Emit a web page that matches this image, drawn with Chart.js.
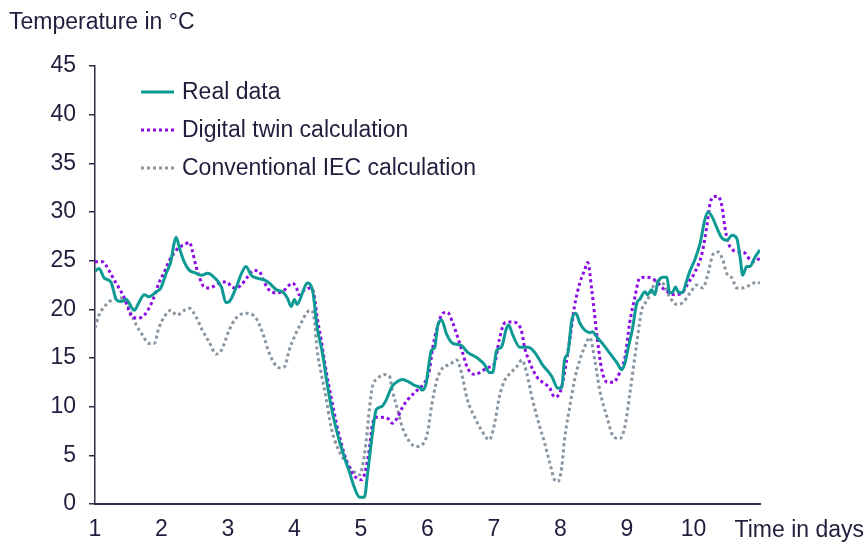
<!DOCTYPE html>
<html>
<head>
<meta charset="utf-8">
<script src="https://cdn.jsdelivr.net/npm/chart.js@4.4.1/dist/chart.umd.min.js"></script>
<style>
  html, body { margin: 0; padding: 0; background: #fff; }
</style>
</head>
<body>
<canvas id="tempChart" width="866" height="548"></canvas>
<script>
// Values (time in days, temperature in °C)
const realDays = [1.00,1.06,1.14,1.24,1.32,1.39,1.47,1.56,1.59,1.66,
  1.74,1.81,1.92,1.99,2.07,2.14,2.19,2.22,2.27,2.34,
  2.42,2.49,2.60,2.69,2.79,2.90,2.97,3.02,3.12,3.21,
  3.27,3.35,3.44,3.55,3.62,3.73,3.82,3.89,3.95,4.00,
  4.04,4.12,4.19,4.27,4.34,4.42,4.49,4.57,4.67,4.75,
  4.83,4.90,4.98,5.05,5.10,5.16,5.23,5.31,5.38,5.46,
  5.53,5.62,5.73,5.80,5.88,5.92,5.98,6.03,6.06,6.11,
  6.15,6.21,6.29,6.38,6.51,6.60,6.75,6.86,6.93,6.98,
  7.04,7.11,7.19,7.22,7.28,7.39,7.51,7.61,7.73,7.87,
  7.96,8.02,8.06,8.11,8.17,8.23,8.29,8.36,8.44,8.48,
  8.54,8.63,8.74,8.85,8.92,8.97,9.02,9.08,9.15,9.19,
  9.27,9.31,9.37,9.42,9.46,9.54,9.60,9.64,9.69,9.73,
  9.77,9.83,9.90,9.95,10.02,10.10,10.17,10.22,10.28,10.35,
  10.42,10.50,10.58,10.65,10.70,10.74,10.80,10.85,10.92,11.00];
const realTemps = [23.9,24.2,23.2,22.8,21.0,20.8,21.0,20.1,19.9,20.7,
  21.5,21.3,21.8,22.2,23.7,24.9,26.8,27.4,26.3,24.9,
  24.0,23.8,23.5,23.7,23.3,22.3,20.7,20.8,22.2,23.8,
  24.4,23.5,23.2,23.0,22.7,22.0,21.8,21.2,20.3,21.0,
  20.5,21.7,22.7,22.0,18.2,15.5,12.4,9.4,6.6,4.8,
  3.2,1.7,0.7,0.7,3.2,6.6,9.7,10.0,10.7,12.0,
  12.5,12.8,12.5,12.2,12.0,11.7,12.4,14.8,15.8,16.1,
  18.2,18.9,17.4,16.5,16.3,15.6,15.0,14.3,13.5,13.5,
  15.8,16.1,18.1,18.4,17.4,16.1,16.1,15.6,14.3,13.1,
  11.9,12.0,14.8,15.5,18.9,19.6,18.6,17.9,17.6,17.7,
  17.2,16.5,15.5,14.5,13.8,14.5,16.1,17.9,20.7,21.0,
  21.8,21.5,22.0,21.5,22.7,23.3,23.3,21.7,21.8,22.3,
  21.8,21.7,23.0,24.0,25.1,26.8,29.2,30.0,29.5,28.4,
  27.4,27.1,27.6,27.3,25.4,23.5,24.4,24.4,25.3,26.1];

const twinDays = [1.00,1.11,1.21,1.29,1.36,1.44,1.51,1.56,1.66,1.74,
  1.81,1.89,1.96,2.04,2.11,2.19,2.27,2.34,2.42,2.46,
  2.52,2.57,2.64,2.72,2.82,2.91,2.99,3.05,3.12,3.20,
  3.29,3.39,3.47,3.55,3.65,3.74,3.85,3.97,4.03,4.07,
  4.15,4.25,4.30,4.34,4.40,4.48,4.55,4.63,4.70,4.78,
  4.86,4.93,5.01,5.08,5.13,5.17,5.23,5.31,5.40,5.47,
  5.55,5.62,5.70,5.80,5.88,5.95,6.03,6.08,6.15,6.23,
  6.30,6.38,6.45,6.53,6.60,6.71,6.81,6.90,7.01,7.08,
  7.16,7.23,7.34,7.42,7.46,7.54,7.64,7.73,7.84,7.91,
  7.99,8.06,8.14,8.21,8.29,8.36,8.41,8.47,8.55,8.62,
  8.71,8.79,8.89,8.97,9.04,9.12,9.19,9.27,9.37,9.45,
  9.52,9.61,9.72,9.83,9.92,10.02,10.13,10.20,10.25,10.32,
  10.37,10.43,10.47,10.52,10.59,10.70,10.77,10.85,10.92,11.00];
const twinTemps = [24.9,24.9,24.0,23.0,22.2,21.2,19.9,19.2,19.1,19.4,
  20.1,21.3,22.7,23.8,24.9,25.8,26.4,26.6,26.9,26.1,
  24.4,23.3,22.3,22.2,22.5,22.8,22.8,22.3,22.2,22.5,
  23.3,24.0,23.9,22.7,21.8,21.7,22.0,22.7,22.2,21.5,
  22.0,22.2,21.3,19.2,16.9,13.5,11.0,8.3,6.3,4.5,
  3.3,2.7,2.5,3.8,5.9,8.1,8.9,8.9,8.8,8.3,
  8.9,9.9,10.7,11.4,11.9,12.4,13.8,16.1,18.2,19.6,
  19.7,18.6,17.2,15.5,14.0,13.3,13.6,14.0,14.5,16.9,
  18.6,18.7,18.6,17.6,16.1,14.5,13.1,12.5,11.9,11.0,
  11.4,13.5,16.9,20.3,22.7,24.0,24.8,22.0,17.2,13.8,
  12.5,12.5,13.5,15.1,18.6,21.3,23.2,23.3,23.2,22.8,
  22.3,21.8,21.5,21.7,22.7,23.8,25.8,28.5,30.9,31.6,
  31.6,30.5,28.5,26.9,26.1,25.9,25.8,25.1,24.9,25.3];

const iecDays = [1.00,1.06,1.17,1.26,1.36,1.47,1.54,1.62,1.71,1.81,
  1.89,1.96,2.04,2.14,2.23,2.34,2.42,2.52,2.61,2.72,
  2.82,2.90,3.02,3.12,3.27,3.42,3.52,3.62,3.77,3.85,
  3.92,4.00,4.10,4.19,4.25,4.30,4.34,4.40,4.48,4.55,
  4.64,4.75,4.83,4.90,4.98,5.02,5.08,5.13,5.17,5.25,
  5.35,5.43,5.47,5.55,5.62,5.73,5.83,5.92,6.00,6.06,
  6.14,6.23,6.33,6.44,6.51,6.60,6.71,6.81,6.93,7.01,
  7.08,7.16,7.27,7.34,7.42,7.49,7.58,7.69,7.76,7.84,
  7.91,7.96,8.02,8.06,8.14,8.21,8.29,8.36,8.44,8.52,
  8.59,8.70,8.79,8.89,8.97,9.04,9.15,9.22,9.31,9.39,
  9.46,9.54,9.64,9.75,9.84,9.95,10.05,10.14,10.22,10.29,
  10.37,10.44,10.50,10.58,10.65,10.74,10.85,10.95,11.00];
const iecTemps = [18.1,19.4,20.5,21.0,21.2,20.7,19.6,18.4,17.4,16.5,
  16.5,18.1,19.2,19.9,19.4,19.9,20.1,19.2,17.9,16.6,
  15.4,15.8,17.9,19.1,19.6,19.1,17.6,15.5,14.0,14.1,
  15.8,17.2,18.6,19.7,19.9,18.9,15.8,13.5,10.7,7.9,
  5.9,4.5,3.8,3.3,3.0,3.8,6.6,10.0,12.0,12.9,
  13.3,13.1,11.7,9.7,7.9,6.4,5.9,6.1,7.3,10.0,
  12.7,14.0,14.3,14.8,13.5,10.7,8.9,7.6,6.6,8.3,
  11.0,12.7,13.6,14.1,14.8,13.5,10.7,7.9,6.3,4.2,
  2.5,2.3,3.8,6.6,10.0,12.7,14.8,16.1,17.1,14.6,
  11.7,8.9,7.0,6.7,8.0,11.2,16.7,19.9,21.0,22.3,
  23.2,22.7,21.3,20.5,20.7,21.7,22.5,22.2,23.7,25.6,
  25.9,25.1,23.7,23.2,22.2,22.2,22.5,22.8,22.7];

const seriesLabels = ['Real data', 'Digital twin calculation', 'Conventional IEC calculation'];
const yTitle = 'Temperature in °C';
const xTitle = 'Time in days';

const FONT = '"Liberation Sans", Arial, sans-serif';
const FONT_SIZE = 23;
const TEXT_COLOR = '#1f1f3d';
const AXIS_COLOR = '#2d2d45';

function toPoints(xs, ys) {
    return xs.map((x, i) => ({ x: x, y: ys[i] }));
}

// Legend and axis titles drawn onto the canvas
const annotations = {
    id: 'annotations',
    afterDraw(chart) {
        const ctx = chart.ctx;
        ctx.save();
        ctx.font = FONT_SIZE + 'px ' + FONT;
        ctx.fillStyle = TEXT_COLOR;
        ctx.textBaseline = 'middle';
        ctx.textAlign = 'left';
        ctx.fillText(yTitle, 9, 23);
        ctx.textAlign = 'right';
        ctx.fillText(xTitle, 864, 531);

        const top = chart.chartArea.top;
        chart.data.datasets.forEach((ds, i) => {
            const y = top + 26 + i * 38;
            ctx.beginPath();
            ctx.strokeStyle = ds.borderColor;
            ctx.lineWidth = ds.borderWidth;
            ctx.setLineDash(ds.borderDash || []);
            ctx.moveTo(141, y);
            ctx.lineTo(174, y);
            ctx.stroke();
            ctx.setLineDash([]);
            ctx.textAlign = 'left';
            ctx.fillText(ds.label, 182, y + 1);
        });
        ctx.restore();
    }
};

new Chart(document.getElementById('tempChart'), {
    type: 'line',
    data: {
        datasets: [{
            label: seriesLabels[0],
            data: toPoints(realDays, realTemps),
            borderColor: '#0e9a94',
            borderWidth: 3,
            pointRadius: 0,
            cubicInterpolationMode: 'monotone'
        },
        {
            label: seriesLabels[1],
            data: toPoints(twinDays, twinTemps),
            borderColor: '#8c0ae6',
            borderWidth: 3,
            borderDash: [3, 3],
            pointRadius: 0,
            cubicInterpolationMode: 'monotone'
        },
        {
            label: seriesLabels[2],
            data: toPoints(iecDays, iecTemps),
            borderColor: '#8796a2',
            borderWidth: 3,
            borderDash: [3, 3],
            pointRadius: 0,
            cubicInterpolationMode: 'monotone'
        }]
    },
    options: {
        responsive: false,
        animation: false,
        devicePixelRatio: 1,
        layout: { padding: { top: 66, right: 106, left: 0, bottom: 0 } },
        plugins: {
            legend: { display: false },
            tooltip: { enabled: false }
        },
        scales: {
            x: {
                type: 'linear',
                min: 1,
                max: 11,
                grid: { display: false },
                border: { display: true, color: AXIS_COLOR, width: 2 },
                ticks: {
                    stepSize: 1,
                    autoSkip: false,
                    maxRotation: 0,
                    padding: 4,
                    color: TEXT_COLOR,
                    font: { family: FONT, size: FONT_SIZE },
                    callback: (v) => (v <= 10 ? v : '')
                },
                afterFit: (scale) => { scale.height = 44; }
            },
            y: {
                min: 0,
                max: 45,
                grid: {
                    display: true,
                    drawOnChartArea: false,
                    drawTicks: true,
                    tickLength: 6,
                    color: AXIS_COLOR,
                    lineWidth: 1.5
                },
                border: { display: true, color: AXIS_COLOR, width: 1.5 },
                ticks: {
                    stepSize: 5,
                    padding: 13,
                    color: TEXT_COLOR,
                    font: { family: FONT, size: FONT_SIZE }
                },
                afterFit: (scale) => { scale.width = 95; }
            }
        }
    },
    plugins: [annotations]
});
</script>
</body>
</html>
